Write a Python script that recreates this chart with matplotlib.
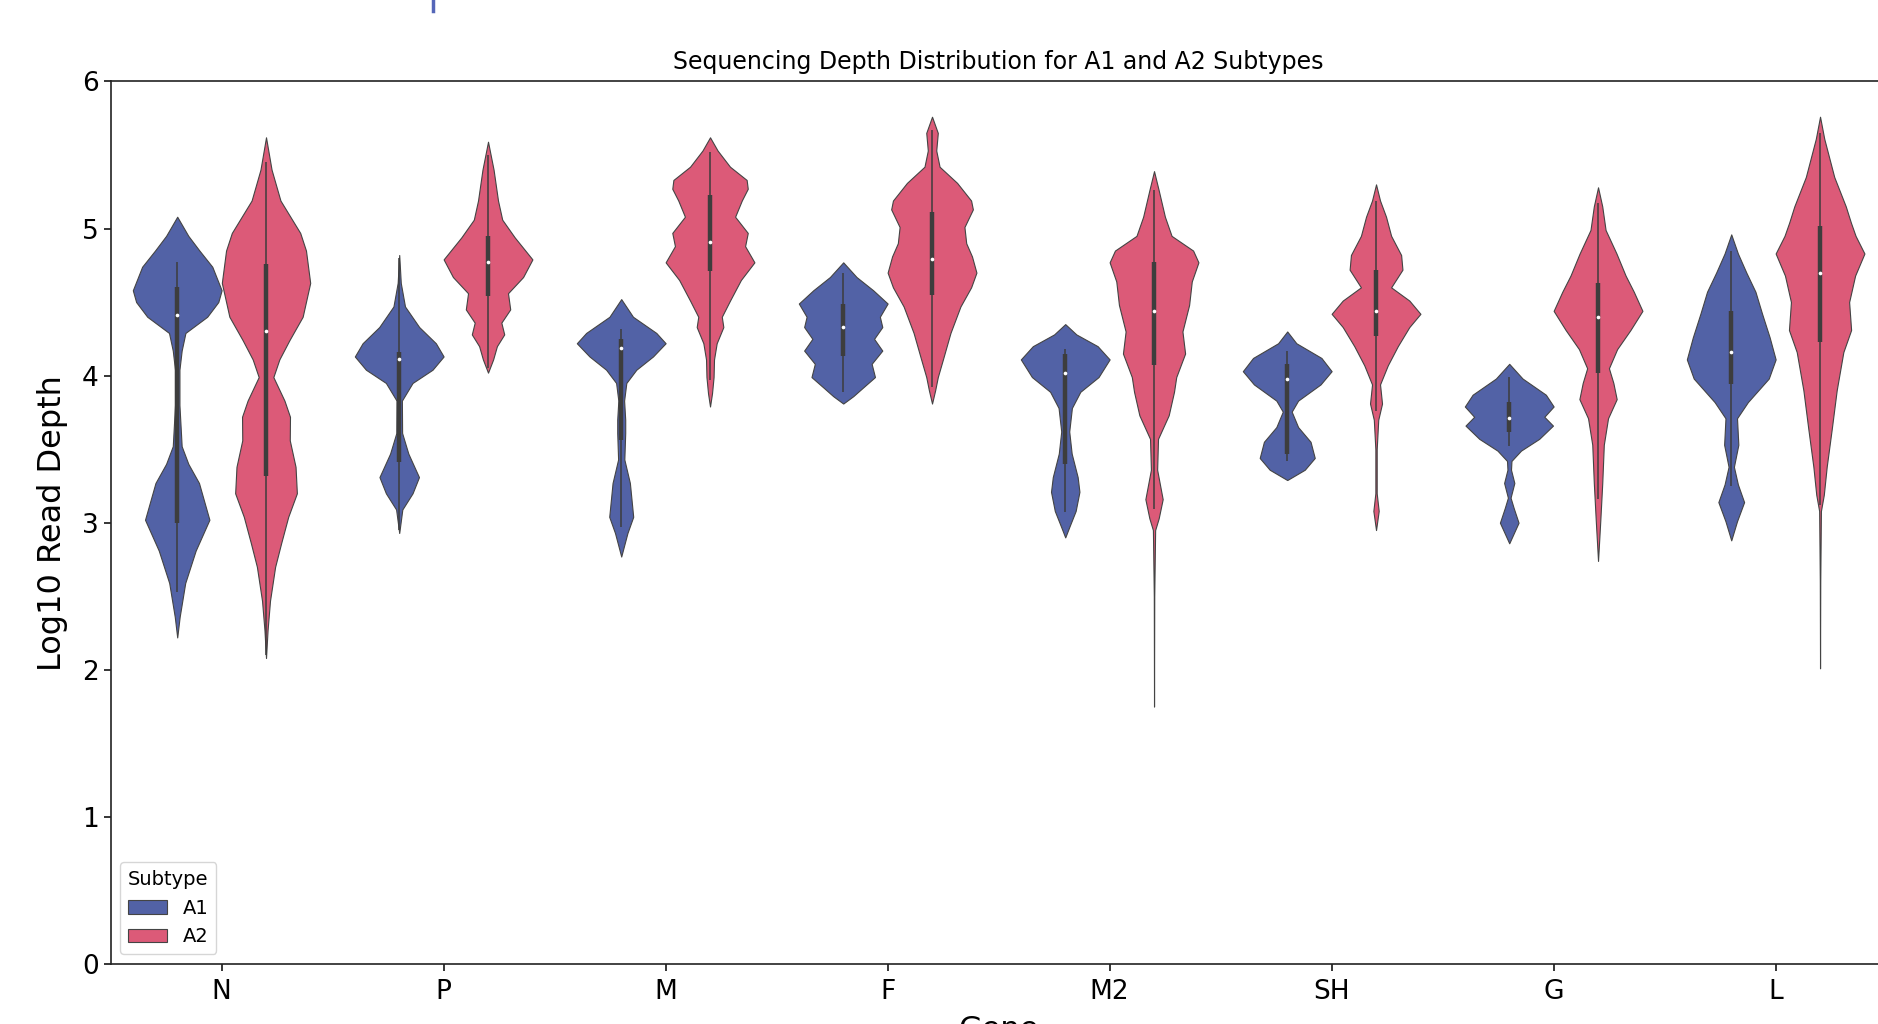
import numpy as np
import matplotlib
matplotlib.use("Agg")
import matplotlib.pyplot as plt
from matplotlib.lines import Line2D
from matplotlib.patches import Patch

genes = ["N", "P", "M", "F", "M2", "SH", "G", "L"]
subtypes = ["A1", "A2"]
colors = {"A1": "#5262a6", "A2": "#dc5a78"}

# violin outlines: (log10 depth, half width)
a1_shape = {
    "N": ([2.22, 2.36, 2.59, 2.81, 3.02, 3.27, 3.40, 3.52, 3.80, 4.04, 4.17, 4.29, 4.40, 4.50, 4.58, 4.74, 4.85, 4.95, 5.08],
          [0, 0.011, 0.036, 0.083, 0.145, 0.098, 0.05, 0.02, 0.01, 0.01, 0.02, 0.037, 0.135, 0.185, 0.2, 0.158, 0.10, 0.05, 0]),
    "P": ([2.93, 3.09, 3.20, 3.31, 3.47, 3.61, 3.83, 3.95, 4.04, 4.13, 4.22, 4.33, 4.47, 4.63, 4.82],
          [0, 0.014, 0.06, 0.089, 0.041, 0.013, 0.012, 0.06, 0.15, 0.20, 0.165, 0.09, 0.026, 0.007, 0]),
    "M": ([2.77, 2.93, 3.04, 3.27, 3.43, 3.61, 3.70, 3.83, 3.95, 4.04, 4.13, 4.22, 4.29, 4.40, 4.52],
          [0, 0.028, 0.054, 0.039, 0.014, 0.018, 0.018, 0.013, 0.023, 0.068, 0.143, 0.20, 0.158, 0.053, 0]),
    "F": ([3.81, 3.86, 3.92, 3.99, 4.08, 4.17, 4.25, 4.33, 4.40, 4.49, 4.58, 4.67, 4.77],
          [0, 0.045, 0.09, 0.143, 0.128, 0.176, 0.139, 0.176, 0.165, 0.20, 0.135, 0.06, 0]),
    "M2": ([2.90, 2.97, 3.08, 3.21, 3.31, 3.47, 3.62, 3.78, 3.89, 3.99, 4.11, 4.20, 4.28, 4.35],
           [0, 0.018, 0.047, 0.064, 0.056, 0.029, 0.018, 0.03, 0.068, 0.15, 0.20, 0.146, 0.05, 0]),
    "SH": ([3.29, 3.36, 3.44, 3.55, 3.65, 3.755, 3.83, 3.94, 4.03, 4.12, 4.22, 4.30],
           [0, 0.079, 0.124, 0.105, 0.049, 0.02, 0.049, 0.15, 0.20, 0.154, 0.041, 0]),
    "G": ([2.86, 3.0, 3.10, 3.17, 3.27, 3.36, 3.42, 3.49, 3.57, 3.66, 3.72, 3.79, 3.87, 3.98, 4.08],
          [0, 0.042, 0.02, 0.006, 0.023, 0.008, 0.01, 0.053, 0.135, 0.197, 0.158, 0.20, 0.165, 0.06, 0]),
    "L": ([2.88, 3.01, 3.14, 3.26, 3.38, 3.53, 3.71, 3.82, 3.98, 4.11, 4.26, 4.42, 4.57, 4.70, 4.83, 4.96],
          [0, 0.026, 0.058, 0.03, 0.012, 0.032, 0.026, 0.075, 0.169, 0.20, 0.173, 0.139, 0.109, 0.068, 0.03, 0]),
}
a2_shape = {
    "N": ([2.08, 2.27, 2.47, 2.70, 2.86, 3.04, 3.20, 3.38, 3.56, 3.72, 3.83, 3.99, 4.11, 4.24, 4.40, 4.63, 4.85, 4.97, 5.19, 5.40, 5.62],
          [0, 0.007, 0.018, 0.041, 0.068, 0.10, 0.139, 0.133, 0.107, 0.108, 0.083, 0.033, 0.06, 0.105, 0.165, 0.199, 0.18, 0.154, 0.065, 0.025, 0]),
    "P": ([4.02, 4.11, 4.20, 4.28, 4.36, 4.45, 4.56, 4.67, 4.79, 4.94, 5.06, 5.19, 5.40, 5.59],
          [0, 0.023, 0.04, 0.073, 0.06, 0.10, 0.09, 0.158, 0.20, 0.12, 0.064, 0.045, 0.025, 0]),
    "M": ([3.79, 3.88, 3.99, 4.11, 4.22, 4.33, 4.40, 4.51, 4.65, 4.77, 4.88, 4.97, 5.08, 5.19, 5.27, 5.33, 5.42, 5.53, 5.62],
          [0, 0.009, 0.016, 0.018, 0.03, 0.06, 0.053, 0.09, 0.139, 0.20, 0.158, 0.17, 0.113, 0.143, 0.17, 0.165, 0.09, 0.034, 0]),
    "F": ([3.81, 3.90, 3.99, 4.11, 4.29, 4.47, 4.60, 4.70, 4.81, 4.90, 5.01, 5.13, 5.19, 5.31, 5.42, 5.53, 5.65, 5.76],
          [0, 0.014, 0.026, 0.049, 0.083, 0.128, 0.176, 0.20, 0.18, 0.154, 0.146, 0.184, 0.176, 0.113, 0.034, 0.019, 0.026, 0]),
    "M2": ([1.75, 2.50, 2.95, 3.03, 3.16, 3.36, 3.57, 3.73, 3.89, 3.99, 4.15, 4.30, 4.48, 4.64, 4.77, 4.85, 4.95, 5.08, 5.26, 5.39],
           [0, 0.001, 0.005, 0.021, 0.039, 0.014, 0.018, 0.066, 0.09, 0.10, 0.14, 0.128, 0.158, 0.17, 0.20, 0.176, 0.079, 0.049, 0.021, 0]),
    "SH": ([2.95, 3.08, 3.20, 3.50, 3.70, 3.81, 3.94, 4.07, 4.20, 4.33, 4.42, 4.51, 4.60, 4.72, 4.82, 4.95, 5.08, 5.19, 5.30],
           [0, 0.012, 0.003, 0.003, 0.01, 0.027, 0.018, 0.053, 0.098, 0.15, 0.20, 0.15, 0.068, 0.119, 0.113, 0.068, 0.045, 0.018, 0]),
    "G": ([2.74, 3.01, 3.27, 3.53, 3.71, 3.84, 3.95, 4.05, 4.18, 4.31, 4.44, 4.57, 4.68, 4.83, 4.99, 5.15, 5.28],
          [0, 0.01, 0.019, 0.026, 0.045, 0.084, 0.069, 0.049, 0.086, 0.146, 0.20, 0.161, 0.124, 0.083, 0.034, 0.019, 0]),
    "L": ([2.01, 2.60, 3.08, 3.19, 3.38, 3.64, 3.90, 4.16, 4.31, 4.50, 4.68, 4.83, 4.95, 5.04, 5.15, 5.35, 5.61, 5.76],
          [0, 0.001, 0.004, 0.017, 0.03, 0.053, 0.075, 0.105, 0.14, 0.131, 0.158, 0.20, 0.16, 0.139, 0.116, 0.064, 0.019, 0]),
}

# inner box stats, one value per gene
a1_q1 = [3.00, 3.41, 3.56, 4.13, 3.40, 3.47, 3.62, 3.94]
a1_med = [4.41, 4.11, 4.19, 4.33, 4.02, 3.98, 3.71, 4.16]
a1_q3 = [4.60, 4.16, 4.25, 4.49, 4.15, 4.08, 3.82, 4.44]
a1_lo = [2.53, 2.95, 2.97, 3.89, 3.07, 3.42, 3.52, 3.25]
a1_hi = [4.77, 4.80, 4.32, 4.70, 4.18, 4.17, 3.99, 4.85]

a2_q1 = [3.32, 4.54, 4.71, 4.55, 4.07, 4.27, 4.02, 4.23]
a2_med = [4.30, 4.77, 4.91, 4.79, 4.44, 4.44, 4.40, 4.70]
a2_q3 = [4.76, 4.95, 5.23, 5.11, 4.77, 4.72, 4.63, 5.02]
a2_lo = [2.10, 4.05, 3.97, 3.92, 3.09, 3.76, 3.16, 3.12]
a2_hi = [5.45, 5.50, 5.52, 5.67, 5.26, 5.19, 5.17, 5.65]

shapes = {"A1": a1_shape, "A2": a2_shape}
boxes = {"A1": (a1_q1, a1_med, a1_q3, a1_lo, a1_hi),
         "A2": (a2_q1, a2_med, a2_q3, a2_lo, a2_hi)}
offsets = {"A1": -0.2, "A2": 0.2}

fig = plt.figure(figsize=(18.78, 10.24), dpi=100)
ax = fig.add_axes([0.0589, 0.0586, 0.9457, 0.8619])

x = np.arange(len(genes))
for st in subtypes:
    stats = []
    widths = []
    for g in genes:
        ys, ws = shapes[st][g]
        stats.append({"coords": np.array(ys), "vals": np.array(ws),
                      "mean": np.mean(ys), "median": np.median(ys),
                      "min": min(ys), "max": max(ys)})
        widths.append(2 * max(ws))
    pos = x + offsets[st]
    parts = ax.violin(stats, positions=pos, widths=widths,
                      showextrema=False, showmedians=False, showmeans=False)
    for b in parts["bodies"]:
        b.set_facecolor(colors[st])
        b.set_edgecolor("#444444")
        b.set_linewidth(0.8)
        b.set_alpha(1)
        b.set_zorder(2)
    q1, med, q3, lo, hi = boxes[st]
    ax.vlines(pos, lo, hi, color="#3d3d3d", lw=1.1, zorder=3)
    ax.vlines(pos, q1, q3, color="#3d3d3d", lw=3.2, zorder=3)
    ax.scatter(pos, med, s=7, color="white", zorder=4, linewidths=0)

ax.set_xlim(-0.5, 7.5)
ax.set_ylim(0, 6)
ax.set_xticks(x)
ax.set_xticklabels(genes)
ax.set_yticks(range(7))
ax.tick_params(labelsize=19, width=1.1, length=5)
ax.tick_params(axis="x", pad=6)
for s in ax.spines.values():
    s.set_linewidth(1.2)
    s.set_color("#222222")

ax.set_title("Sequencing Depth Distribution for A1 and A2 Subtypes", fontsize=17, pad=9)
ax.set_xlabel("Gene", fontsize=22, labelpad=7)
ax.set_ylabel("Log10 Read Depth", fontsize=23, labelpad=10)

handles = [Patch(facecolor=colors[s], edgecolor="#444444", linewidth=0.8) for s in subtypes]
ax.legend(handles, subtypes, title="Subtype", loc="lower left",
          fontsize=14, title_fontsize=14)

# stray blue mark at the top edge of the screenshot
fig.add_artist(Line2D([433 / 1878, 433 / 1878], [1.0, 1 - 11 / 1024],
                      transform=fig.transFigure, color="#5566b8", lw=2.5))

fig.savefig("out.png", dpi=100)
